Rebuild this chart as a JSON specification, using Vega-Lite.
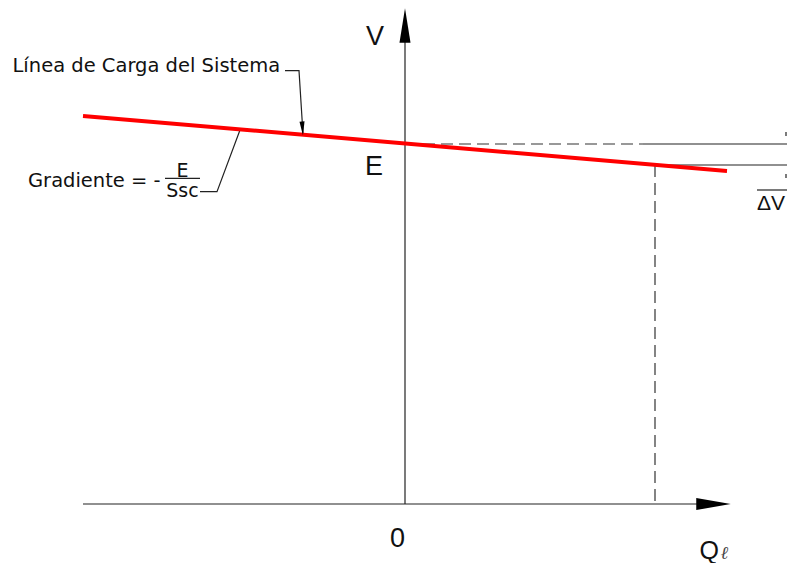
{
  "$schema": "https://vega.github.io/schema/vega-lite/v6.json",
  "width": 787,
  "height": 563,
  "autosize": {"type": "none"},
  "padding": 0,
  "background": "white",
  "config": {"view": {"stroke": null}},
  "datasets": {
    "lines": [
      {"seg": "xaxis", "kind": "solid", "ord": 0, "Q": -32.2, "V": 0},
      {"seg": "xaxis", "kind": "solid", "ord": 1, "Q": 29.2, "V": 0},
      {"seg": "yaxis", "kind": "solid", "ord": 0, "Q": 0, "V": 0},
      {"seg": "yaxis", "kind": "solid", "ord": 1, "Q": 0, "V": 46.2},
      {"seg": "Eline", "kind": "solid", "ord": 0, "Q": 23.8, "V": 36.0},
      {"seg": "Eline", "kind": "solid", "ord": 1, "Q": 38.2, "V": 36.0},
      {"seg": "opline", "kind": "solid", "ord": 0, "Q": 25.0, "V": 33.9},
      {"seg": "opline", "kind": "solid", "ord": 1, "Q": 38.2, "V": 33.9},
      {"seg": "dVbar", "kind": "solid", "ord": 0, "Q": 35.2, "V": 31.4},
      {"seg": "dVbar", "kind": "solid", "ord": 1, "Q": 38.2, "V": 31.4},
      {"seg": "tickA", "kind": "solid", "ord": 0, "Q": 38.1, "V": 37.2},
      {"seg": "tickA", "kind": "solid", "ord": 1, "Q": 38.1, "V": 36.8},
      {"seg": "tickB", "kind": "solid", "ord": 0, "Q": 38.1, "V": 33.0},
      {"seg": "tickB", "kind": "solid", "ord": 1, "Q": 38.1, "V": 32.6},
      {"seg": "fracbar", "kind": "solid", "ord": 0, "Q": -24.0, "V": 32.57},
      {"seg": "fracbar", "kind": "solid", "ord": 1, "Q": -20.5, "V": 32.57},
      {"seg": "leadA", "kind": "solid", "ord": 0, "Q": -12.0, "V": 43.33},
      {"seg": "leadA", "kind": "solid", "ord": 1, "Q": -10.6, "V": 43.33},
      {"seg": "leadA", "kind": "solid", "ord": 2, "Q": -10.2, "V": 37.0},
      {"seg": "leadB", "kind": "solid", "ord": 0, "Q": -20.5, "V": 31.23},
      {"seg": "leadB", "kind": "solid", "ord": 1, "Q": -18.8, "V": 31.23},
      {"seg": "leadB", "kind": "solid", "ord": 2, "Q": -16.5, "V": 37.4},
      {"seg": "hdash", "kind": "dash", "ord": 0, "Q": 0, "V": 36.0},
      {"seg": "hdash", "kind": "dash", "ord": 1, "Q": 23.8, "V": 36.0},
      {"seg": "vdash", "kind": "dash", "ord": 0, "Q": 25.0, "V": 33.9},
      {"seg": "vdash", "kind": "dash", "ord": 1, "Q": 25.0, "V": 0},
      {"seg": "load", "kind": "load", "ord": 0, "Q": -32.2, "V": 38.8},
      {"seg": "load", "kind": "load", "ord": 1, "Q": 32.2, "V": 33.3}
    ],
    "heads": [
      {"name": "xhead", "Q": 30.85, "V": 0},
      {"name": "yhead", "Q": 0, "V": 47.85},
      {"name": "leadhead", "Q": -10.25, "V": 37.55}
    ],
    "labels": [
      {"grp": "note", "txt": "Línea de Carga del Sistema", "Q": -39.25, "V": 43.25},
      {"grp": "note", "txt": "Gradiente = -", "Q": -37.7, "V": 31.73},
      {"grp": "frac", "txt": "E", "Q": -22.25, "V": 32.75},
      {"grp": "frac", "txt": "Ssc", "Q": -22.25, "V": 30.73},
      {"grp": "big", "txt": "V", "Q": -3.0, "V": 45.9},
      {"grp": "big", "txt": "E", "Q": -3.1, "V": 32.9},
      {"grp": "big", "txt": "0", "Q": -0.75, "V": -4.3},
      {"grp": "Q", "txt": "Q", "Q": 29.45, "V": -5.45},
      {"grp": "ell", "txt": "ℓ", "Q": 31.55, "V": -5.5},
      {"grp": "dV", "txt": "ΔV", "Q": 35.2, "V": 29.4}
    ]
  },
  "encoding": {
    "x": {"field": "Q", "type": "quantitative", "axis": null,
          "scale": {"domain": [-40.5, 38.2], "nice": false, "zero": false}},
    "y": {"field": "V", "type": "quantitative", "axis": null,
          "scale": {"domain": [-5.9, 50.4], "nice": false, "zero": false}}
  },
  "layer": [
    {
      "data": {"name": "lines"},
      "transform": [{"filter": "datum.kind === 'dash'"}],
      "mark": {"type": "line", "color": "#333333", "strokeWidth": 1.2, "strokeDash": [12, 6]},
      "encoding": {"detail": {"field": "seg"}, "order": {"field": "ord"}}
    },
    {
      "data": {"name": "lines"},
      "transform": [{"filter": "datum.kind === 'solid'"}],
      "mark": {"type": "line", "color": "#222222", "strokeWidth": 1.2},
      "encoding": {"detail": {"field": "seg"}, "order": {"field": "ord"}}
    },
    {
      "data": {"name": "lines"},
      "transform": [{"filter": "datum.kind === 'load'"}],
      "mark": {"type": "line", "color": "#ff0000", "strokeWidth": 4},
      "encoding": {"detail": {"field": "seg"}, "order": {"field": "ord"}}
    },
    {
      "data": {"name": "heads"},
      "transform": [{"filter": "datum.name === 'xhead'"}],
      "mark": {"type": "point", "filled": true, "color": "#000000", "opacity": 1, "strokeWidth": 0,
               "shape": "M-1,-0.35L1,0L-1,0.35Z", "size": 1190}
    },
    {
      "data": {"name": "heads"},
      "transform": [{"filter": "datum.name === 'yhead'"}],
      "mark": {"type": "point", "filled": true, "color": "#000000", "opacity": 1, "strokeWidth": 0,
               "shape": "M-0.32,1L0,-1L0.32,1Z", "size": 1190}
    },
    {
      "data": {"name": "heads"},
      "transform": [{"filter": "datum.name === 'leadhead'"}],
      "mark": {"type": "point", "filled": true, "color": "#000000", "opacity": 1, "strokeWidth": 0,
               "shape": "M0,1L-0.36,-1L0.36,-1Z", "size": 196, "angle": -4}
    },
    {
      "data": {"name": "labels"},
      "transform": [{"filter": "datum.grp === 'note'"}],
      "mark": {"type": "text", "font": "DejaVu Sans", "fontSize": 19.5, "align": "left", "baseline": "alphabetic", "color": "#111111"},
      "encoding": {"text": {"field": "txt"}}
    },
    {
      "data": {"name": "labels"},
      "transform": [{"filter": "datum.grp === 'frac'"}],
      "mark": {"type": "text", "font": "DejaVu Sans", "fontSize": 19, "align": "center", "baseline": "alphabetic", "color": "#111111"},
      "encoding": {"text": {"field": "txt"}}
    },
    {
      "data": {"name": "labels"},
      "transform": [{"filter": "datum.grp === 'big'"}],
      "mark": {"type": "text", "font": "Liberation Sans", "fontSize": 27, "align": "center", "baseline": "alphabetic", "color": "#111111"},
      "encoding": {"text": {"field": "txt"}}
    },
    {
      "data": {"name": "labels"},
      "transform": [{"filter": "datum.grp === 'Q'"}],
      "mark": {"type": "text", "font": "Liberation Sans", "fontSize": 25, "align": "left", "baseline": "alphabetic", "color": "#111111"},
      "encoding": {"text": {"field": "txt"}}
    },
    {
      "data": {"name": "labels"},
      "transform": [{"filter": "datum.grp === 'ell'"}],
      "mark": {"type": "text", "font": "Liberation Serif", "fontStyle": "italic", "fontSize": 18, "align": "left", "baseline": "alphabetic", "color": "#444444"},
      "encoding": {"text": {"field": "txt"}}
    },
    {
      "data": {"name": "labels"},
      "transform": [{"filter": "datum.grp === 'dV'"}],
      "mark": {"type": "text", "font": "Liberation Sans", "fontSize": 21, "align": "left", "baseline": "alphabetic", "color": "#111111"},
      "encoding": {"text": {"field": "txt"}}
    }
  ]
}
